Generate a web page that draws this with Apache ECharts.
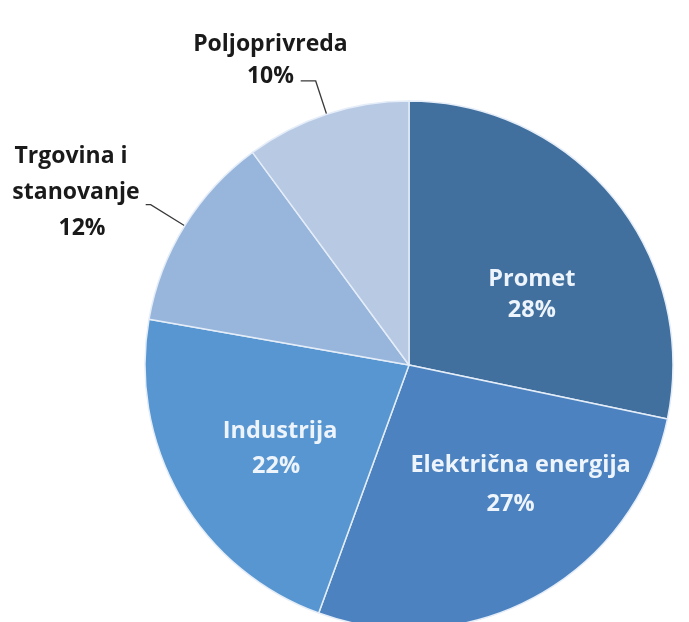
<!DOCTYPE html>
<html>
<head>
<meta charset="utf-8">
<script src="https://cdn.jsdelivr.net/npm/echarts@6/dist/echarts.min.js"></script>
<style>
  html, body { margin: 0; padding: 0; background: #ffffff; }
  #chart { width: 689px; height: 622px; }
</style>
</head>
<body>
<div id="chart"></div>
<script>
// Sectors, clockwise from 12 o'clock
const categories = ['Promet', 'Električna energija', 'Industrija', 'Trgovina i\nstanovanje', 'Poljoprivreda'];
const shares = [28, 27, 22, 12, 10];
const sliceColors = ['#41709f', '#4b82bf', '#5796d0', '#98b6dc', '#b8c9e4'];
// which labels sit outside the pie with a leader line
const outsideLabels = [false, false, false, true, true];

// fine nudges for inside label placement (pixels)
const labelNudge = {
  'Promet': [18, 15],
  'Električna energija': [46, 2],
  'Industrija': [-12, 16]
};
const labelLineHeight = [31, 39, 35, 36, 32];
// per-row [left, right] padding used to shift individual rows sideways
const rowPads = [
  [[0, 0], [0, 0]],
  [[0, 0], [0, 20]],
  [[0, 0], [0, 8]],
  [[0, 10], [0, 0], [12, 0]],
  [[0, 0], [0, 0]]
];

const FONT = 'Open Sans';
const ROW_KEYS = ['a', 'b', 'c'];

function labelFor(i, color, size) {
  const lines = (categories[i] + '\n' + shares[i] + '%').split('\n');
  const rich = {};
  lines.forEach((s, k) => {
    const pad = rowPads[i][k] || [0, 0];
    rich[ROW_KEYS[k]] = {
      fontFamily: FONT, fontWeight: 'bold', fontSize: size, color: color,
      lineHeight: labelLineHeight[i], align: 'center',
      padding: [0, pad[1], 0, pad[0]]
    };
  });
  return {
    formatter: lines.map((s, k) => '{' + ROW_KEYS[k] + '|' + s + '}').join('\n'),
    rich: rich
  };
}

const data = categories.map((name, i) => {
  const item = { name: name, value: shares[i], itemStyle: { color: sliceColors[i] } };
  if (outsideLabels[i]) {
    item.label = Object.assign(labelFor(i, '#1a1a1a', 23), {
      position: 'outside',
      padding: i === 4 ? [0, 0, 40, 0] : [0, 0, 24, 0],
      distanceToLabelLine: i === 4 ? -47 : 6
    });
    item.labelLine = { show: true, length: i === 4 ? 35 : 40, length2: i === 4 ? 15 : 5 };
  } else {
    item.label = Object.assign(labelFor(i, '#eef4fb', 23.5), { position: 'inside' });
    item.labelLine = { show: false };
  }
  return item;
});

const chart = echarts.init(document.getElementById('chart'));
chart.setOption({
  backgroundColor: '#ffffff',
  animation: false,
  series: [{
    type: 'pie',
    center: [409, 365],
    radius: 264,
    startAngle: 90,
    clockwise: true,
    avoidLabelOverlap: false,
    itemStyle: { borderColor: '#e4edf8', borderWidth: 1.5 },
    label: {
      fontFamily: FONT,
      fontWeight: 'bold'
    },
    labelLine: {
      lineStyle: { color: '#3a3a3a', width: 1.3 },
      smooth: false
    },
    labelLayout: function (params) {
      const n = labelNudge[categories[params.dataIndex]];
      return n ? { dx: n[0], dy: n[1] } : {};
    },
    data: data
  }]
});
</script>
</body>
</html>
